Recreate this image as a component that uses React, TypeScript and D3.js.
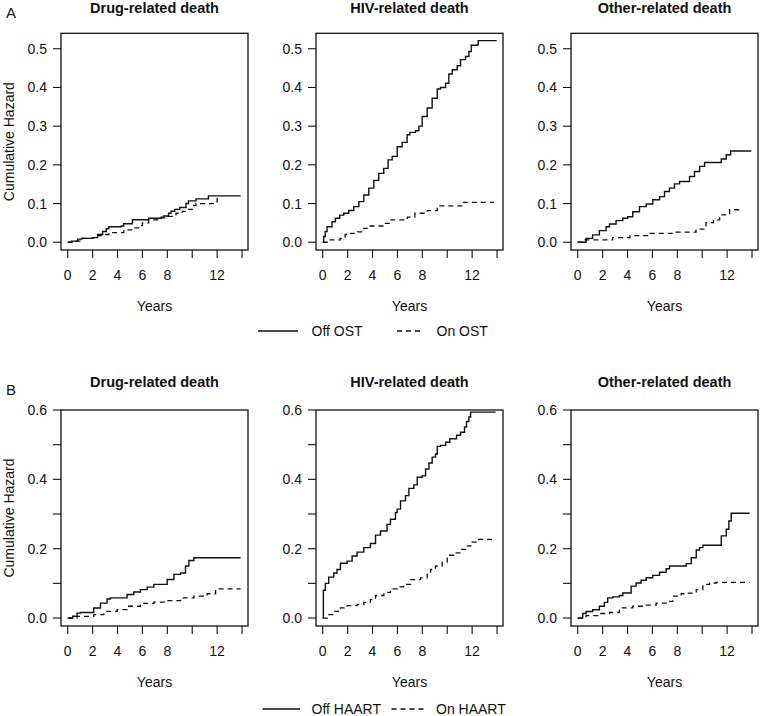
import React from "react";
import * as d3 from "d3";

// ---------- data (years, cumulative hazard) ----------
const drugOffOST: [number, number][] = [
  [0, 0], [0.3, 0.003], [0.8, 0.008], [1.1, 0.01], [2.0, 0.012], [2.4, 0.02], [2.8, 0.028], [3.1, 0.035], [3.3, 0.04],
  [4.3, 0.042], [4.5, 0.048], [5.2, 0.058], [6.5, 0.062], [7.5, 0.065], [7.7, 0.068], [8.1, 0.075], [8.3, 0.08],
  [8.6, 0.085], [9.0, 0.09], [9.5, 0.1], [9.7, 0.107], [10.3, 0.112], [11.3, 0.12], [13.9, 0.12],
];
const drugOnOST: [number, number][] = [
  [0, 0], [0.5, 0.003], [1.2, 0.01], [2.0, 0.012], [2.4, 0.017], [2.7, 0.02], [3.3, 0.025], [4.5, 0.032], [5.4, 0.037],
  [5.7, 0.043], [6.0, 0.05], [6.5, 0.058], [7.5, 0.063], [7.9, 0.067], [8.7, 0.075], [9.2, 0.08], [9.7, 0.085],
  [10.0, 0.095], [10.3, 0.1], [12.0, 0.12], [12.1, 0.12],
];
const hivOffOST: [number, number][] = [
  [0, 0], [0.08, 0.015], [0.2, 0.028], [0.35, 0.04], [0.75, 0.053], [1.02, 0.062], [1.37, 0.07], [1.69, 0.075],
  [2.09, 0.082], [2.49, 0.092], [2.9, 0.105], [3.3, 0.122], [3.7, 0.14], [4.1, 0.16], [4.5, 0.178], [4.9, 0.191],
  [5.25, 0.213], [5.58, 0.222], [5.98, 0.247], [6.38, 0.258], [6.78, 0.278], [7.0, 0.284], [7.45, 0.288],
  [7.72, 0.3], [7.99, 0.325], [8.39, 0.347], [8.79, 0.372], [9.2, 0.396], [9.46, 0.4], [9.87, 0.411],
  [10.13, 0.435], [10.4, 0.446], [10.8, 0.456], [11.07, 0.472], [11.47, 0.48], [11.74, 0.493], [11.93, 0.509],
  [12.41, 0.51], [12.49, 0.521], [13.97, 0.521],
];
const hivOnOST: [number, number][] = [
  [0, 0], [0.35, 0.006], [1.4, 0.01], [1.8, 0.02], [2.0, 0.023], [2.8, 0.027], [3.3, 0.036], [3.8, 0.042], [4.9, 0.049],
  [5.4, 0.058], [6.8, 0.065], [7.4, 0.075], [8.4, 0.082], [9.2, 0.094], [11.3, 0.103], [13.75, 0.103],
];
const otherOffOST: [number, number][] = [
  [0, 0], [0.67, 0.01], [1.2, 0.019], [1.74, 0.03], [2.28, 0.04], [2.55, 0.047], [3.08, 0.056], [3.62, 0.062],
  [4.02, 0.066], [4.42, 0.079], [4.96, 0.092], [5.5, 0.099], [6.03, 0.11], [6.57, 0.118], [6.97, 0.131],
  [7.37, 0.14], [7.77, 0.151], [8.18, 0.157], [8.98, 0.17], [9.38, 0.183], [9.79, 0.196], [10.19, 0.206],
  [11.53, 0.215], [11.93, 0.226], [12.28, 0.236], [13.94, 0.236],
];
const otherOnOST: [number, number][] = [
  [0, 0], [0.4, 0.006], [2.8, 0.012], [4.2, 0.017], [5.8, 0.023], [7.9, 0.026], [9.5, 0.034], [10.3, 0.051],
  [10.9, 0.058], [11.4, 0.071], [12.2, 0.084], [13.1, 0.084],
];

const drugOffHAART: [number, number][] = [
  [0, 0], [0.4, 0.005], [0.75, 0.014], [1.02, 0.016], [2.09, 0.029], [2.63, 0.043], [3.16, 0.055], [3.43, 0.058],
  [4.77, 0.068], [5.31, 0.075], [5.84, 0.082], [6.38, 0.089], [6.92, 0.097], [7.99, 0.111], [8.53, 0.126],
  [9.06, 0.13], [9.46, 0.15], [9.73, 0.166], [10.13, 0.174], [13.89, 0.174],
];
const drugOnHAART: [number, number][] = [
  [0, 0], [0.75, 0.005], [2.09, 0.01], [2.9, 0.019], [3.97, 0.024], [4.77, 0.034], [5.84, 0.042], [6.92, 0.046],
  [7.99, 0.05], [9.06, 0.058], [10.13, 0.063], [11.2, 0.07], [11.88, 0.084], [13.89, 0.084],
];
const hivOffHAART: [number, number][] = [
  [0, 0], [0.05, 0.08], [0.21, 0.1], [0.48, 0.118], [0.88, 0.13], [1.15, 0.14], [1.42, 0.158], [1.96, 0.164],
  [2.36, 0.179], [2.76, 0.19], [3.3, 0.203], [3.83, 0.215], [4.24, 0.239], [4.64, 0.251], [5.17, 0.27],
  [5.44, 0.285], [5.84, 0.304], [5.98, 0.314], [6.25, 0.338], [6.65, 0.353], [6.92, 0.374], [7.32, 0.384],
  [7.59, 0.406], [7.99, 0.41], [8.26, 0.43], [8.53, 0.447], [8.79, 0.464], [9.06, 0.473], [9.2, 0.495],
  [9.46, 0.498], [9.87, 0.507], [10.21, 0.517], [10.75, 0.527], [11.07, 0.536], [11.39, 0.551], [11.55, 0.567],
  [11.74, 0.58], [11.88, 0.594], [13.89, 0.594],
];
const hivOnHAART: [number, number][] = [
  [0, 0], [0.35, 0.01], [0.88, 0.019], [1.42, 0.029], [1.96, 0.036], [2.76, 0.039], [3.3, 0.045], [3.83, 0.053],
  [4.24, 0.065], [4.91, 0.074], [5.44, 0.084], [5.98, 0.09], [6.51, 0.097], [7.05, 0.111], [7.86, 0.116],
  [8.39, 0.126], [8.66, 0.14], [9.06, 0.15], [9.6, 0.161], [10.0, 0.181], [10.54, 0.188], [11.07, 0.198],
  [11.61, 0.208], [12.0, 0.219], [12.41, 0.227], [13.89, 0.227],
];
const otherOffHAART: [number, number][] = [
  [0, 0], [0.4, 0.013], [0.67, 0.019], [1.2, 0.024], [1.74, 0.034], [2.14, 0.045], [2.41, 0.058], [2.82, 0.061],
  [3.35, 0.065], [3.62, 0.072], [4.29, 0.092], [4.69, 0.101], [5.09, 0.109], [5.5, 0.116], [6.03, 0.123],
  [6.57, 0.132], [7.1, 0.142], [7.37, 0.15], [8.71, 0.157], [9.12, 0.174], [9.52, 0.196], [9.79, 0.203],
  [10.05, 0.21], [11.53, 0.237], [11.93, 0.256], [12.14, 0.28], [12.33, 0.302], [13.81, 0.302],
];
const otherOnHAART: [number, number][] = [
  [0, 0], [0.67, 0.007], [1.74, 0.013], [2.55, 0.016], [3.35, 0.029], [4.42, 0.034], [5.5, 0.037], [6.3, 0.043],
  [7.1, 0.048], [7.64, 0.063], [8.31, 0.07], [8.71, 0.072], [9.52, 0.082], [10.05, 0.097], [10.59, 0.101],
  [11.13, 0.103], [13.81, 0.103],
];

const panelTitles = ["Drug-related death", "HIV-related death", "Other-related death"];
const xTicks = [0, 2, 4, 6, 8, 10, 12, 14];
const xTickLabels = ["0", "2", "4", "6", "8", "", "12", ""];
const yTicksA = [0, 0.1, 0.2, 0.3, 0.4, 0.5];
const yTickLabelsA = ["0.0", "0.1", "0.2", "0.3", "0.4", "0.5"];
const yTicksB = [0, 0.1, 0.2, 0.3, 0.4, 0.5, 0.6];
const yTickLabelsB = ["0.0", "", "0.2", "", "0.4", "", "0.6"];
const legendA = ["Off OST", "On OST"];
const legendB = ["Off HAART", "On HAART"];

const FONT = "'Liberation Sans', Arial, Helvetica, sans-serif";
const INK = "#111";

const boxLefts = [61, 316, 571];
const boxWidth = 187;

type RowSpec = {
  letter: string;
  top: number;
  bottom: number;
  titleY: number;
  yDomain: [number, number];
  yTicks: number[];
  yLabels: string[];
  series: [[number, number][], [number, number][]][];
  legend: string[];
  legendY: number;
  legendX: number[]; // solid start, solid end, text1, dash start, dash end, text2
};

const rows: RowSpec[] = [
  {
    letter: "A",
    top: 33.3,
    bottom: 250,
    titleY: 12.8,
    yDomain: [-0.02, 0.54],
    yTicks: yTicksA,
    yLabels: yTickLabelsA,
    series: [
      [drugOffOST, drugOnOST],
      [hivOffOST, hivOnOST],
      [otherOffOST, otherOnOST],
    ],
    legend: legendA,
    legendY: 331,
    legendX: [258, 298, 311.5, 397, 424, 436.5],
  },
  {
    letter: "B",
    top: 410,
    bottom: 626,
    titleY: 387,
    yDomain: [-0.023, 0.6],
    yTicks: yTicksB,
    yLabels: yTickLabelsB,
    series: [
      [drugOffHAART, drugOnHAART],
      [hivOffHAART, hivOnHAART],
      [otherOffHAART, otherOnHAART],
    ],
    legend: legendB,
    legendY: 709,
    legendX: [262.5, 300, 311.5, 391.5, 424, 436],
  },
];

function Panel({ row, col }: { row: RowSpec; col: number }) {
  const left = boxLefts[col];
  const x = d3.scaleLinear().domain([-0.54, 14.48]).range([left, left + boxWidth]);
  const y = d3.scaleLinear().domain(row.yDomain).range([row.bottom, row.top]);
  const line = d3
    .line<[number, number]>()
    .x((d) => x(d[0]))
    .y((d) => y(d[1]))
    .curve(d3.curveStepAfter);
  const [off, on] = row.series[col];
  const cx = left + boxWidth / 2;
  return (
    <g>
      <text x={cx} y={row.titleY} textAnchor="middle" fontWeight="bold" fontSize={14.5} fontFamily={FONT} fill={INK}>
        {panelTitles[col]}
      </text>
      <path d={line(on) || ""} fill="none" stroke={INK} strokeWidth={1.3} strokeDasharray="5,4" />
      <path d={line(off) || ""} fill="none" stroke={INK} strokeWidth={1.4} />
      <rect x={left} y={row.top} width={boxWidth} height={row.bottom - row.top} fill="none" stroke={INK} strokeWidth={1.3} />
      {xTicks.map((t, i) => (
        <g key={"xt" + i}>
          <line x1={x(t)} x2={x(t)} y1={row.bottom} y2={row.bottom + 8} stroke={INK} strokeWidth={1.1} />
          {xTickLabels[i] && (
            <text x={x(t)} y={row.bottom + 30} textAnchor="middle" fontSize={14} fontFamily={FONT} fill={INK}>
              {xTickLabels[i]}
            </text>
          )}
        </g>
      ))}
      {row.yTicks.map((t, i) => (
        <g key={"yt" + i}>
          <line x1={left - 8} x2={left} y1={y(t)} y2={y(t)} stroke={INK} strokeWidth={1.1} />
          {row.yLabels[i] && (
            <text x={left - 14} y={y(t) + 5} textAnchor="end" fontSize={14} fontFamily={FONT} fill={INK}>
              {row.yLabels[i]}
            </text>
          )}
        </g>
      ))}
      <text x={cx} y={row.bottom + 61} textAnchor="middle" fontSize={14} fontFamily={FONT} fill={INK}>
        Years
      </text>
    </g>
  );
}

function Row({ row }: { row: RowSpec }) {
  const lx = row.legendX;
  const midY = (row.top + row.bottom) / 2;
  return (
    <g>
      <text x={6} y={row.top - 15} fontSize={15} fontFamily={FONT} fill={INK}>
        {row.letter}
      </text>
      <text
        transform={`translate(14,${midY}) rotate(-90)`}
        textAnchor="middle"
        fontSize={14}
        fontFamily={FONT}
        fill={INK}
      >
        Cumulative Hazard
      </text>
      {[0, 1, 2].map((c) => (
        <Panel key={c} row={row} col={c} />
      ))}
      <line x1={lx[0]} x2={lx[1]} y1={row.legendY} y2={row.legendY} stroke={INK} strokeWidth={1.4} />
      <text x={lx[2]} y={row.legendY + 5} fontSize={14} fontFamily={FONT} fill={INK}>
        {row.legend[0]}
      </text>
      <line x1={lx[3]} x2={lx[4]} y1={row.legendY} y2={row.legendY} stroke={INK} strokeWidth={1.3} strokeDasharray="5,4" />
      <text x={lx[5]} y={row.legendY + 5} fontSize={14} fontFamily={FONT} fill={INK}>
        {row.legend[1]}
      </text>
    </g>
  );
}

export default function App() {
  return (
    <svg
      width={760}
      height={716}
      viewBox="0 0 760 716"
      style={{ position: "absolute", left: 0, top: 0, background: "#fff" }}
    >
      <rect x={0} y={0} width={760} height={716} fill="#fff" />
      {rows.map((r) => (
        <Row key={r.letter} row={r} />
      ))}
    </svg>
  );
}
